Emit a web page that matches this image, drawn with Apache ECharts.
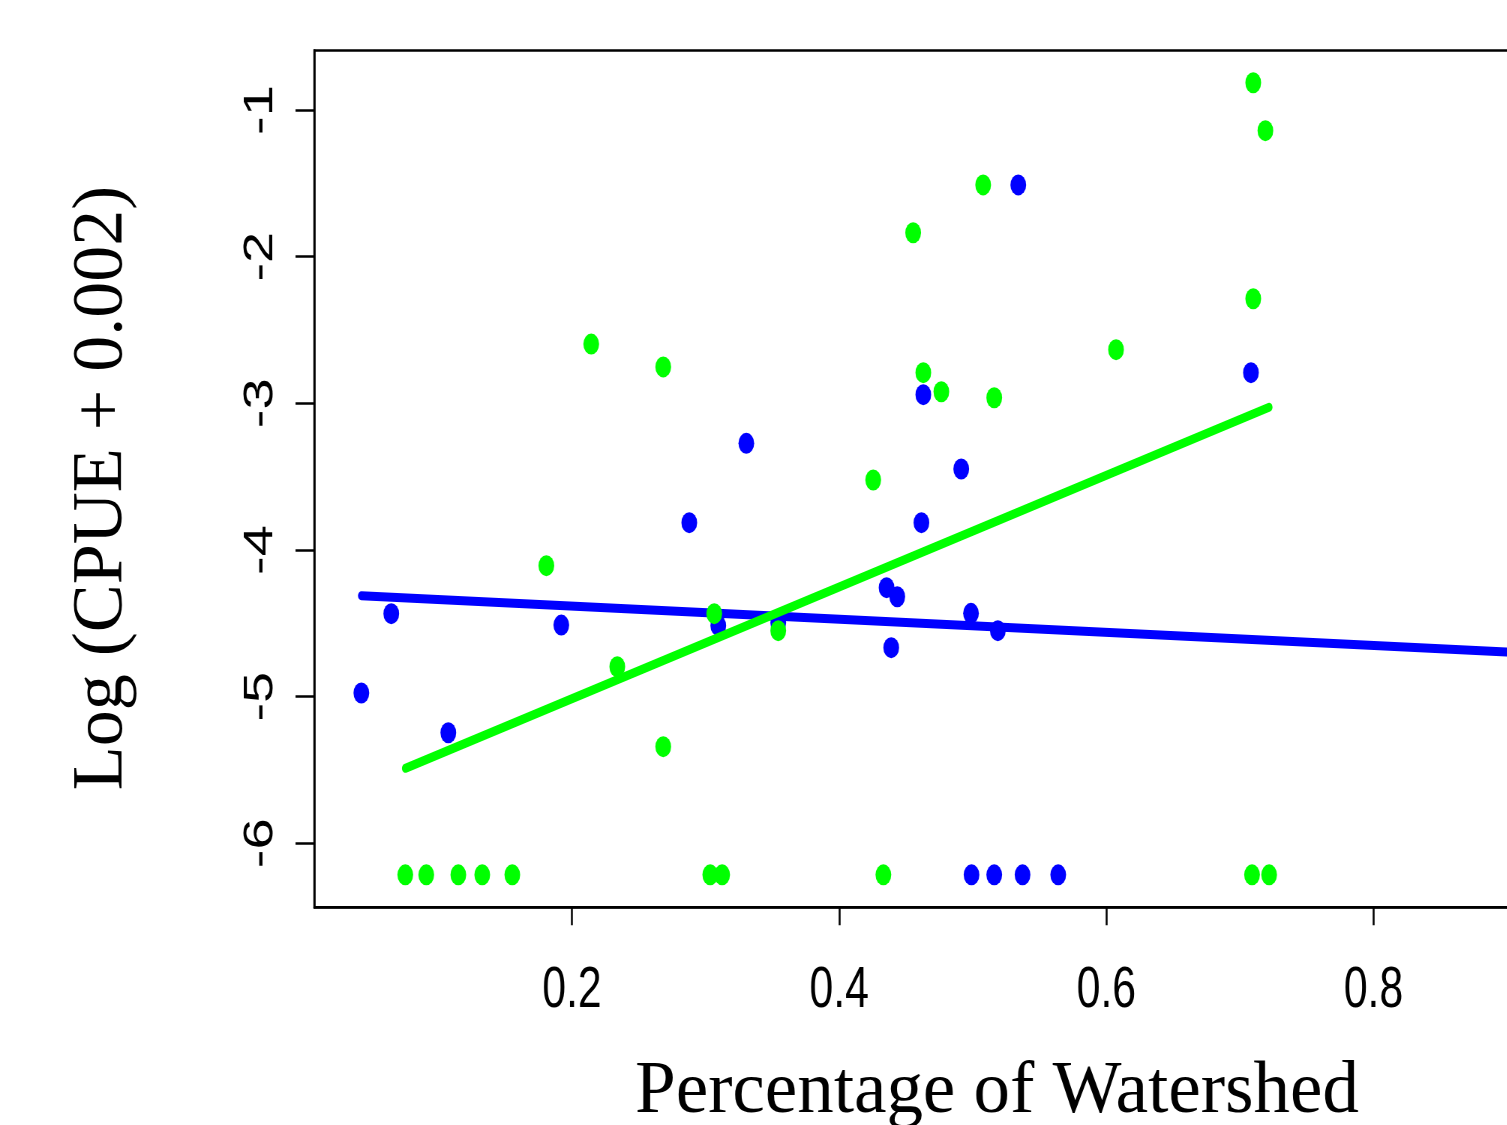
<!DOCTYPE html>
<html>
<head>
<meta charset="utf-8">
<script src="https://cdn.jsdelivr.net/npm/echarts@6/dist/echarts.min.js"></script>
<style>
html,body{margin:0;padding:0;background:#fff;overflow:hidden;width:1507px;height:1125px;}
#main{width:2200px;height:1125px;transform:scaleX(0.75);transform-origin:0 0;}
</style>
</head>
<body>
<div id="main"></div>
<script>
// ---- data (x = share of watershed, y = log(CPUE + 0.002)) ----
const blueX = [0.5341, 0.7083, 0.4630, 0.3305, 0.4914, 0.2878, 0.4616, 0.4355, 0.4435, 0.0647, 0.4987, 0.1920, 0.3095, 0.3544, 0.5188, 0.4390, 0.0423, 0.1074, 0.4991, 0.5161, 0.5373, 0.5640];
const blueY = [-1.511, -2.791, -2.941, -3.273, -3.448, -3.814, -3.814, -4.257, -4.319, -4.434, -4.432, -4.512, -4.516, -4.496, -4.550, -4.666, -4.975, -5.246, -6.215, -6.215, -6.215, -6.215];
const greenX = [0.7100, 0.7191, 0.5078, 0.4554, 0.7100, 0.2144, 0.6073, 0.2683, 0.4630, 0.4765, 0.5161, 0.4255, 0.1808, 0.3065, 0.3544, 0.2339, 0.2683, 0.0752, 0.0909, 0.1149, 0.1328, 0.1553, 0.3035, 0.3124, 0.4331, 0.7091, 0.7219];
const greenY = [-0.814, -1.141, -1.511, -1.837, -2.287, -2.596, -2.634, -2.752, -2.791, -2.921, -2.962, -3.523, -4.107, -4.434, -4.550, -4.796, -5.341, -6.215, -6.215, -6.215, -6.215, -6.215, -6.215, -6.215, -6.215, -6.215, -6.215];
const blueFitX = [0.0423, 0.93];
const blueFitY = [-4.312, -4.710];
const greenFitX = [0.0752, 0.7219];
const greenFitY = [-5.489, -3.027];
const xTicks = [0.2, 0.4, 0.6, 0.8];
const yTicks = [-6, -5, -4, -3, -2, -1];
const xTitle = 'Percentage of Watershed';
const yTitle = 'Log (CPUE + 0.002)';

const zip = (a, b) => a.map((v, i) => [v, b[i]]);
const S = 0.75; // horizontal squeeze of the picture

const chart = echarts.init(document.getElementById('main'), null, {renderer: 'canvas'});
chart.setOption({
  animation: false,
  backgroundColor: '#ffffff',
  grid: {
    left: 419.07, top: 50.5, width: 1702.5, bottom: 217.7,
    show: true, borderColor: '#000', borderWidth: 2.5, backgroundColor: 'transparent',
    containLabel: false
  },
  xAxis: {
    type: 'value', min: 0.00708, max: 0.963,
    splitLine: {show: false},
    axisLine: {show: true, onZero: false, lineStyle: {color: '#000', width: 2.5}},
    axisTick: {show: true, length: 18, lineStyle: {color: '#000', width: 2.5}, customValues: xTicks},
    axisLabel: {
      customValues: xTicks, color: '#000', fontSize: 57, margin: 55,
      fontFamily: '"Liberation Sans", Arial, sans-serif',
      formatter: v => String(v)
    }
  },
  yAxis: {
    type: 'value', min: -6.4364, max: -0.5943,
    splitLine: {show: false},
    axisLine: {show: true, onZero: false, lineStyle: {color: '#000', width: 2.5}},
    axisTick: {show: true, length: 25, lineStyle: {color: '#000', width: 2.5}, customValues: yTicks},
    axisLabel: {
      customValues: yTicks, color: '#000', fontSize: 56, margin: 44, rotate: 90,
      fontFamily: '"Liberation Sans", Arial, sans-serif',
      formatter: v => String(v)
    }
  },
  graphic: [
    {
      type: 'text', x: 997 / S, y: 1092.5, scaleX: 1 / S, silent: true,
      style: {text: xTitle, font: '73px "Liberation Serif", "Times New Roman", serif', fill: '#000', textAlign: 'center', textVerticalAlign: 'middle'}
    },
    {
      type: 'text', x: 102.4 / S, y: 488, rotation: Math.PI / 2, scaleY: 1 / S, silent: true,
      style: {text: yTitle, font: '72px "Liberation Serif", "Times New Roman", serif', fill: '#000', textAlign: 'center', textVerticalAlign: 'middle'}
    }
  ],
  series: [
    {
      type: 'scatter', name: 'blue', data: zip(blueX, blueY),
      symbol: 'circle', symbolSize: 21, itemStyle: {color: '#0000ff', opacity: 1}, z: 2
    },
    {
      type: 'line', name: 'blue fit', data: zip(blueFitX, blueFitY), showSymbol: false,
      lineStyle: {color: '#0000ff', width: 9, cap: 'round', opacity: 1}, z: 3
    },
    {
      type: 'scatter', name: 'green', data: zip(greenX, greenY),
      symbol: 'circle', symbolSize: 21, itemStyle: {color: '#00ff00', opacity: 1}, z: 4
    },
    {
      type: 'line', name: 'green fit', data: zip(greenFitX, greenFitY), showSymbol: false,
      lineStyle: {color: '#00ff00', width: 9, cap: 'round', opacity: 1}, z: 5
    }
  ]
});
</script>
</body>
</html>
